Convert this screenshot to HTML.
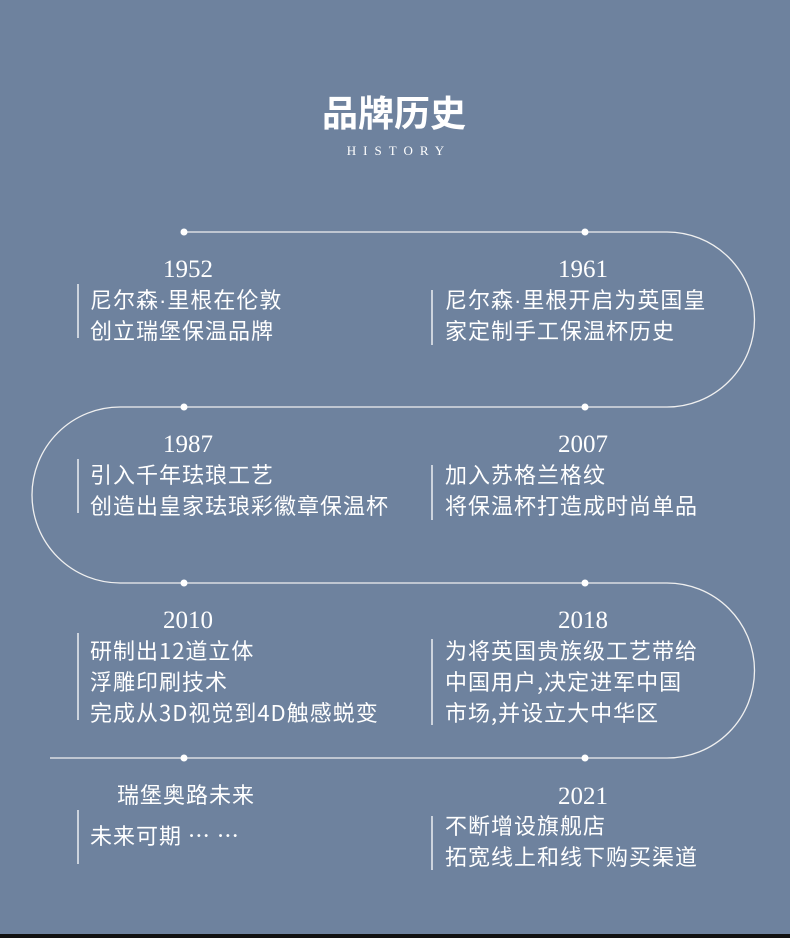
<!DOCTYPE html>
<html><head><meta charset="utf-8"><style>
html,body{margin:0;padding:0;background:#6e829e;}
svg{display:block}
.t{font-family:"Noto Sans CJK SC",sans-serif;font-size:22px;letter-spacing:1px;fill:#fff}
.d{font-family:"Liberation Sans",sans-serif}
.y{font-family:"Liberation Serif",serif;font-size:25px;fill:#fff;text-anchor:middle}
</style></head><body>
<svg width="790" height="938" viewBox="0 0 790 938" xmlns="http://www.w3.org/2000/svg">
<rect width="790" height="938" fill="#6e829e"/>
<rect y="934" width="790" height="4" fill="#111"/>
<text x="394" y="126" text-anchor="middle" style="font-family:'Noto Sans CJK SC',sans-serif;font-size:36px;font-weight:bold;fill:#fff">品牌历史</text>
<text x="399" y="155" text-anchor="middle" style="font-family:'Liberation Serif',serif;font-size:13px;letter-spacing:7px;fill:#fff">HISTORY</text>
<path d="M184 232 H667 A87.5 87.5 0 0 1 667 407 H120 A88 88 0 0 0 120 583 H667 A87.5 87.5 0 0 1 667 758 H50" fill="none" stroke="#f0f0f0" stroke-width="1.3"/>
<g fill="#fff">
<circle cx="184" cy="232" r="3.5"/><circle cx="585" cy="232" r="3.5"/>
<circle cx="184" cy="407" r="3.5"/><circle cx="585" cy="407" r="3.5"/>
<circle cx="184" cy="583" r="3.5"/><circle cx="585" cy="583" r="3.5"/>
<circle cx="184" cy="758" r="3.5"/><circle cx="585" cy="758" r="3.5"/>
</g>
<g stroke="#fff" stroke-width="1.3">
<line x1="78" y1="284" x2="78" y2="338"/><line x1="432" y1="290" x2="432" y2="345"/>
<line x1="78" y1="459" x2="78" y2="513"/><line x1="432" y1="465" x2="432" y2="520"/>
<line x1="78" y1="633" x2="78" y2="720"/><line x1="432" y1="639" x2="432" y2="725"/>
<line x1="78" y1="810" x2="78" y2="864"/><line x1="432" y1="816" x2="432" y2="870"/>
</g>
<text class="y" x="188" y="277">1952</text>
<text class="t" x="90" y="308">尼尔森<tspan class="d">·</tspan>里根在伦敦</text>
<text class="t" x="90" y="339">创立瑞堡保温品牌</text>
<text class="y" x="583" y="277">1961</text>
<text class="t" x="445" y="308">尼尔森<tspan class="d">·</tspan>里根开启为英国皇</text>
<text class="t" x="445" y="339">家定制手工保温杯历史</text>
<text class="y" x="188" y="452">1987</text>
<text class="t" x="90" y="483">引入千年珐琅工艺</text>
<text class="t" x="90" y="514">创造出皇家珐琅彩徽章保温杯</text>
<text class="y" x="583" y="452">2007</text>
<text class="t" x="445" y="483">加入苏格兰格纹</text>
<text class="t" x="445" y="514">将保温杯打造成时尚单品</text>
<text class="y" x="188" y="628">2010</text>
<text class="t" x="90" y="659">研制出12道立体</text>
<text class="t" x="90" y="690">浮雕印刷技术</text>
<text class="t" x="90" y="721">完成从3D视觉到4D触感蜕变</text>
<text class="y" x="583" y="628">2018</text>
<text class="t" x="445" y="659">为将英国贵族级工艺带给</text>
<text class="t" x="445" y="690">中国用户,决定进军中国</text>
<text class="t" x="445" y="721">市场,并设立大中华区</text>
<text class="t" x="117" y="803">瑞堡奥路未来</text>
<text class="t" x="90" y="844">未来可期 … …</text>
<text class="y" x="583" y="804">2021</text>
<text class="t" x="445" y="834">不断增设旗舰店</text>
<text class="t" x="445" y="865">拓宽线上和线下购买渠道</text>
</svg>
</body></html>
